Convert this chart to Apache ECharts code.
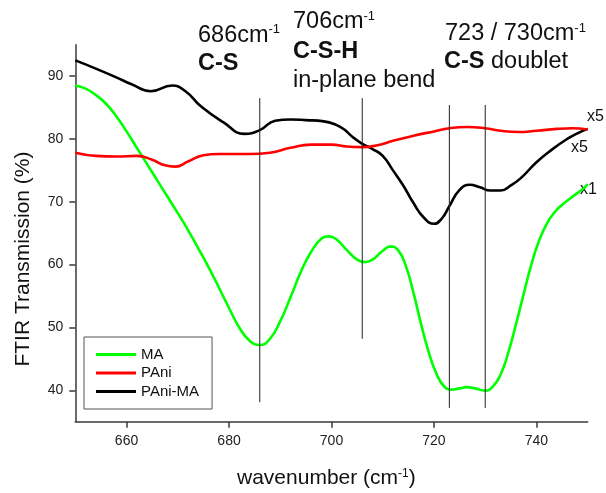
<!DOCTYPE html>
<html>
<head>
<meta charset="utf-8">
<script src="https://cdn.jsdelivr.net/npm/echarts@6/dist/echarts.min.js"></script>
<style>html,body{margin:0;padding:0;background:#fff}#c{width:606px;height:493px}</style>
</head>
<body>
<div id="c"></div>
<script>
// ---- data ----
const maX = [650,652,654,656,658,660,662,664,666,668,670,672,674,676,678,680,682,684,686,688,690,692,694,696,698,699.5,701,703,705,706.5,708,710,711.5,713,714.5,716,717.5,719,720.5,722,723.5,725,726.5,728,730,731.5,733,734.5,736,737.5,739,740.5,742,743.5,745,747,749,750];
const maY = [88.5,88.0,87.0,85.6,83.6,81.2,78.6,76.0,73.4,70.8,68.2,65.5,62.6,59.6,56.4,53.1,50.0,47.9,47.2,48.2,51.0,54.8,58.8,62.0,64.1,64.5,64.0,62.3,60.8,60.4,60.8,62.2,62.9,62.3,59.8,55.5,50.5,46.0,42.6,40.6,40.1,40.3,40.5,40.3,39.95,40.6,42.5,46.0,50.5,55.3,60.0,63.8,66.5,68.3,69.5,70.8,72.0,72.8];

const paniX = [650,654,658,662,665,667.5,669.5,672,675,678,684,688,692,696,700,703,706,709,712,716,720,723,726.5,730,733,736.5,740,744,747,750];
const paniY = [77.8,77.3,77.2,77.3,76.7,75.8,75.6,76.4,77.4,77.6,77.6,77.8,78.6,79.1,79.1,78.8,78.7,79.0,79.7,80.5,81.2,81.7,81.9,81.7,81.3,81.1,81.3,81.6,81.7,81.5];

const paniMaX = [650,654,658,661,664.7,668.9,671.5,674.5,679,683,686,689,692,695,698.5,701,702.5,704,706,708,710,712,714,716,718,720,721.5,723,725,727,729,731,733,735,737,740,743,746,748,750];
const paniMaY = [92.5,91.2,89.8,88.7,87.6,88.5,87.6,85.2,82.6,80.8,81.4,82.9,83.1,83.0,82.8,82.2,81.5,80.4,79.2,78.4,77.3,75.0,72.6,69.8,67.5,66.5,67.3,69.3,71.9,72.7,72.3,71.8,71.8,72.6,73.8,76.3,78.3,80.0,80.9,81.6];

const peakX = [686, 706, 723, 730];
const peakTop = [86.5, 86.5, 85.4, 85.4];
const peakBottom = [38.1, 48.2, 37.2, 37.2];

const xTicks = [660, 680, 700, 720, 740];
const yTicks = [40, 50, 60, 70, 80, 90];

// ---- chart ----
const FONT = 'Liberation Sans, Arial, Helvetica, sans-serif';
const chart = echarts.init(document.getElementById('c'));
const zip = (xs, ys) => xs.map((x, i) => [x, ys[i]]);

const axisCommon = {
  type: 'value',
  axisLine: {show: true, lineStyle: {color: '#3a3a3a', width: 1.5}},
  axisTick: {show: true, inside: false, length: 6, lineStyle: {color: '#3a3a3a', width: 1.5}},
  splitLine: {show: false},
  axisLabel: {fontSize: 14, color: '#222', fontFamily: FONT, margin: 12}
};

const curve = (name, xs, ys, color) => ({
  name, type: 'line', data: zip(xs, ys), smooth: 0.5, showSymbol: false, symbol: 'none',
  lineStyle: {color, width: 2.6}, itemStyle: {color}, silent: true
});

const series = [
  curve('MA', maX, maY, '#00ff00'),
  curve('PAni-MA', paniMaX, paniMaY, '#000000'),
  curve('PAni', paniX, paniY, '#ff0000')
];
peakX.forEach((x, i) => {
  series.push({
    name: 'peak' + x, type: 'line', data: [[x, peakBottom[i]], [x, peakTop[i]]],
    showSymbol: false, symbol: 'none', silent: true,
    lineStyle: {color: '#222', width: 1}, z: 5
  });
});

const txt = (text, x, y, size, opts = {}) => ({
  type: 'text', silent: true,
  style: Object.assign({text, x, y, fontSize: size, fontFamily: FONT, fill: '#111',
    textAlign: 'left', textVerticalAlign: 'middle'}, opts)
});
const supRich = (size) => ({
  n: {fontSize: size, fontFamily: FONT, color: '#111'},
  b: {fontSize: size, fontFamily: FONT, color: '#111', fontWeight: 'bold'},
  s: {fontSize: Math.round(size * 0.56), fontFamily: FONT, color: '#111', verticalAlign: 'top'}
});
const A = 23.5;

chart.setOption({
  animation: false,
  backgroundColor: '#fff',
  grid: {left: 75.3, right: 18.3, top: 44.7, bottom: 71.3, containLabel: false, outerBoundsMode: 'none'},
  xAxis: Object.assign({}, axisCommon, {
    min: 650, max: 750,
    axisTick: Object.assign({}, axisCommon.axisTick, {customValues: xTicks}),
    axisLabel: Object.assign({}, axisCommon.axisLabel, {customValues: xTicks})
  }),
  yAxis: Object.assign({}, axisCommon, {
    min: 35, max: 95,
    axisTick: Object.assign({}, axisCommon.axisTick, {customValues: yTicks}),
    axisLabel: Object.assign({}, axisCommon.axisLabel, {customValues: yTicks})
  }),
  legend: {
    data: ['MA', 'PAni', 'PAni-MA'], orient: 'vertical', left: 84, top: 337,
    icon: 'rect', itemWidth: 40, itemHeight: 3, itemGap: 3.5,
    padding: [10, 13, 10, 12], borderColor: '#555', borderWidth: 1,
    selectedMode: false,
    textStyle: {fontSize: 15, color: '#111', fontFamily: FONT}
  },
  series,
  graphic: [
    // axis titles
    {type: 'text', silent: true, x: 23, y: 259, rotation: Math.PI / 2,
      style: {text: 'FTIR Transmission (%)', fontSize: 21, fontFamily: FONT, fill: '#111',
        textAlign: 'center', textVerticalAlign: 'middle'}},
    txt('{n|wavenumber (cm}{s|-1}{n|)}', 237, 478, 21, {rich: supRich(21)}),
    // peak annotations
    txt('{n|686cm}{s|-1}', 198, 35.2, A, {rich: supRich(A)}),
    txt('C-S', 198, 63.6, A, {fontWeight: 'bold'}),
    txt('{n|706cm}{s|-1}', 293, 21.9, A, {rich: supRich(A)}),
    txt('C-S-H', 293, 51.2, A, {fontWeight: 'bold'}),
    txt('in-plane bend', 293, 80.2, A),
    txt('{n|723 / 730cm}{s|-1}', 445, 33.6, A, {rich: supRich(A)}),
    txt('{b|C-S}{n| doublet}', 444, 61.9, A, {rich: supRich(A)}),
    // scale factors
    txt('x5', 587, 117, 16),
    txt('x5', 571, 148, 16),
    txt('x1', 580, 190, 16)
  ]
});
</script>
</body>
</html>
